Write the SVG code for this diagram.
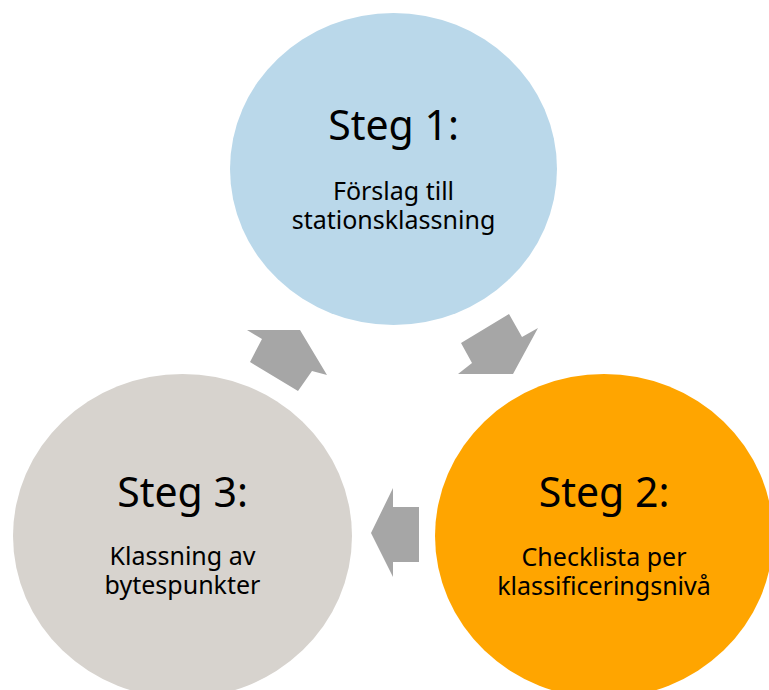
<svg xmlns="http://www.w3.org/2000/svg" width="769" height="690" viewBox="0 0 769 690">
<style>
.title{font-family:"Noto Sans","Liberation Sans",sans-serif;font-size:41px;fill:#000;text-anchor:middle}
.sub{font-family:"Noto Sans","Liberation Sans",sans-serif;font-size:25px;fill:#000;text-anchor:middle}
.arrow{fill:#A6A6A6}
</style>
<rect width="769" height="690" fill="#fff"/>
<g id="steg1">
<ellipse cx="393.5" cy="169" rx="163.5" ry="156" fill="#BAD8EA"/>
<text class="title" x="393.5" y="140">Steg 1:</text>
<text class="sub" x="393.5" y="200">Förslag till</text>
<text class="sub" x="393.5" y="229">stationsklassning</text>
</g>
<g id="steg2">
<ellipse cx="604" cy="536" rx="169" ry="162" fill="#FFA500"/>
<text class="title" x="604" y="507">Steg 2:</text>
<text class="sub" x="604" y="566">Checklista per</text>
<text class="sub" x="604" y="595">klassificeringsnivå</text>
</g>
<g id="steg3">
<ellipse cx="182.5" cy="536" rx="169.5" ry="162" fill="#D7D3CE"/>
<text class="title" x="182.5" y="507">Steg 3:</text>
<text class="sub" x="182.5" y="565">Klassning av</text>
<text class="sub" x="182.5" y="594">bytespunkter</text>
</g>
<g id="connectors">
<polygon class="arrow" points="509,314 522,337 538,328 513,374 458,374 472,363 461,343"/>
<polygon class="arrow" points="393,488 393,507 419,507 419,562 393,562 393,577 371,533"/>
<polygon class="arrow" points="247,330 300,330 327,375 312,371 298,391 250,362 262,339"/>
</g>
</svg>
